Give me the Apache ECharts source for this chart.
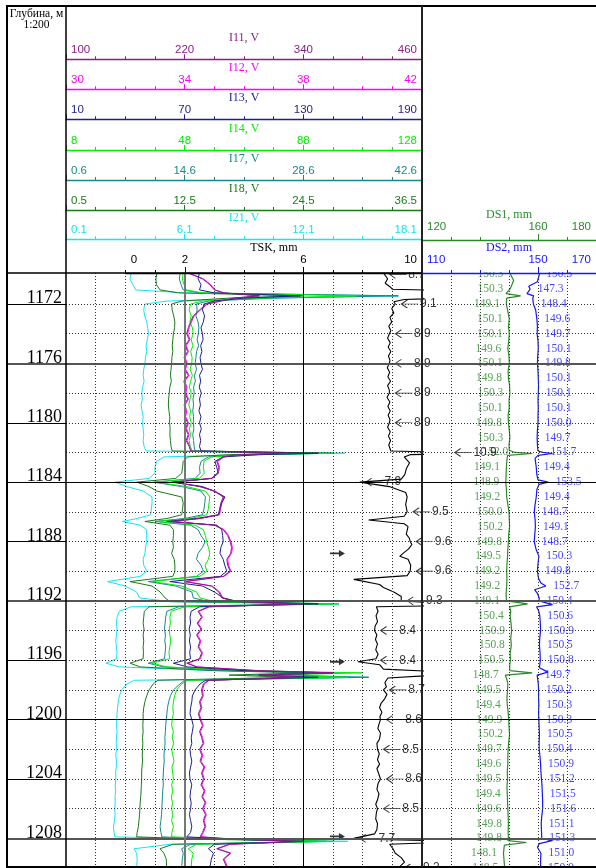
<!DOCTYPE html>
<html>
<head>
<meta charset="utf-8">
<script src="https://cdn.jsdelivr.net/npm/echarts@6.0.0/dist/echarts.min.js"></script>
<style>
html,body{margin:0;padding:0;background:#fff;}
#chart{width:596px;height:868px;}
</style>
</head>
<body>
<div id="chart"></div>
<script>
// ---- Depth samples shared by the I-curves (m) ----
const depthI = [
  1169.9, 1170.3, 1170.7, 1171.05, 1171.25, 1171.45, 1171.6, 1171.8, 1172.0, 1172.4,
  1172.8, 1173.2, 1173.6, 1174.0, 1174.4, 1174.8, 1175.2, 1175.6, 1176.0, 1176.4,
  1176.8, 1177.2, 1177.6, 1178.0, 1178.4, 1178.8, 1179.2, 1179.6, 1180.0, 1180.4,
  1180.8, 1181.2, 1181.6, 1181.9, 1182.05, 1182.15, 1182.3, 1182.6, 1183.0, 1183.4,
  1183.75, 1184.0, 1184.3, 1184.6, 1185.0, 1185.4, 1185.8, 1186.2, 1186.45, 1186.65,
  1186.9, 1187.2, 1187.6, 1188.0, 1188.4, 1188.8, 1189.2, 1189.6, 1190.0, 1190.35,
  1190.7, 1191.0, 1191.4, 1191.8, 1192.05, 1192.2, 1192.4, 1192.7, 1193.1, 1193.5,
  1193.9, 1194.3, 1194.7, 1195.1, 1195.5, 1195.9, 1196.2, 1196.45, 1196.7, 1196.85,
  1197.0, 1197.15, 1197.35, 1197.6, 1198.0, 1198.4, 1198.8, 1199.2, 1199.6, 1200.0,
  1200.4, 1200.8, 1201.2, 1201.6, 1202.0, 1202.4, 1202.8, 1203.2, 1203.6, 1204.0,
  1204.4, 1204.8, 1205.2, 1205.6, 1206.0, 1206.4, 1206.8, 1207.2, 1207.6, 1207.9,
  1208.05, 1208.2, 1208.4, 1208.7, 1209.0, 1209.4, 1209.95
];

// I11, V
const i11 = [
  223, 238, 245.5, 250, 259, 295, 269.5, 256, 242.2, 235,
  228.7, 226, 223.6, 222.1, 224.5, 220.6, 223, 219.4, 221.8, 220,
  223.6, 219.1, 221.5, 220.3, 223, 219.4, 221.2, 220, 223, 220.9,
  223.6, 221.5, 224.5, 226, 325, 274, 259, 252.4, 254.5, 253,
  247, 208.6, 235, 250, 259, 256.6, 255.4, 254.5, 235, 206.5,
  250, 259, 263.5, 265.9, 267.4, 266.5, 262.6, 263.5, 265.9, 259,
  220, 247, 254.5, 257.5, 271, 340, 244, 233.5, 237.1, 232.6,
  236.5, 232, 235.6, 233.5, 237.1, 235, 222.1, 232, 295, 370,
  295, 340, 244, 238.9, 237.1, 238, 235, 236.5, 233.8, 235.6,
  238, 235, 237.1, 238.6, 235, 237.4, 235.6, 239.5, 237.1, 238.9,
  236.5, 239.8, 237.4, 240.7, 238, 241, 238.9, 240.4, 238, 235.6,
  268, 340, 265, 252.4, 265.9, 259, 262.6
];
// I12, V
const i12 = [
  34.13, 34.63, 34.88, 35.03, 35.33, 36.53, 35.68, 35.23, 34.77, 34.53,
  34.32, 34.23, 34.15, 34.1, 34.18, 34.05, 34.13, 34.01, 34.09, 34.03,
  34.15, 34.0, 34.08, 34.04, 34.13, 34.01, 34.07, 34.03, 34.13, 34.06,
  34.15, 34.08, 34.18, 34.23, 37.4, 35.83, 35.33, 35.11, 35.18, 35.13,
  34.93, 33.65, 34.53, 35.03, 35.33, 35.25, 35.21, 35.18, 34.53, 33.58,
  35.03, 35.33, 35.48, 35.56, 35.61, 35.58, 35.45, 35.48, 35.56, 35.33,
  34.03, 34.93, 35.18, 35.28, 35.73, 37.9, 34.83, 34.48, 34.6, 34.45,
  34.58, 34.43, 34.55, 34.48, 34.6, 34.53, 34.1, 34.43, 36.4, 38.9,
  36.4, 37.9, 34.83, 34.66, 34.6, 34.63, 34.53, 34.58, 34.49, 34.55,
  34.63, 34.53, 34.6, 34.65, 34.53, 34.61, 34.55, 34.68, 34.6, 34.66,
  34.58, 34.69, 34.61, 34.72, 34.63, 34.73, 34.66, 34.71, 34.63, 34.55,
  35.63, 38.03, 35.53, 35.11, 35.56, 35.33, 35.45
];
// I13, V
const i13 = [
  77.5, 76.75, 78.25, 77.5, 85, 128.5, 100, 85, 79.75, 79,
  80.05, 79.45, 78.25, 79, 79.3, 78.1, 78.7, 77.8, 78.25, 79,
  77.5, 78.1, 77.35, 78.4, 77.5, 77.95, 77.2, 78.25, 77.5, 78.4,
  77.5, 78.1, 77.5, 78.25, 137.5, 107.5, 89.5, 85.3, 86.2, 86.95,
  83.5, 63.4, 79, 84.55, 90.4, 88.75, 87.85, 86.95, 76, 60.85,
  86.2, 88.75, 89.2, 89.5, 88.3, 87.85, 89.5, 90.25, 91.3, 88,
  62.5, 79, 85, 89.5, 97, 137.5, 77.5, 73.3, 72.7, 73,
  72.25, 72.85, 72.4, 73, 72.55, 73, 64.3, 71.5, 100, 145,
  107.5, 137.5, 80.5, 77.8, 75.25, 73.9, 73.6, 73, 72.7, 73.6,
  74.35, 73.9, 73.3, 73.6, 72.7, 73, 73.6, 73, 72.4, 72.7,
  73.6, 73, 72.7, 73.3, 73, 72.4, 73, 73.6, 73, 71.05,
  92.5, 130, 85, 82, 84.55, 83.5, 82.75
];
// I14, V
const i14 = [
  47.5, 47.2, 47.8, 48.5, 54, 106, 73, 54, 50, 49.5,
  50.2, 49.8, 50.6, 50.9, 50.2, 50.8, 50, 50.5, 50.4, 49.8,
  50.6, 50, 49.6, 50.2, 49.8, 49.4, 50, 49.7, 50.2, 49.6,
  50, 49.5, 49.9, 50.5, 98, 73, 57, 54.5, 54.3, 54.6,
  53, 38, 48.7, 55, 56.5, 56.2, 56, 55.4, 50, 38.6,
  51.5, 54.3, 55, 55.4, 56, 56.5, 56, 54.9, 55.5, 53,
  36.9, 47, 52, 53.2, 58, 100, 48, 43.5, 43, 43.2,
  42.8, 43, 43.3, 43, 42.7, 43, 36.9, 42, 68, 108,
  78, 103, 49, 47, 45.3, 44.6, 44.2, 44, 44.2, 43.8,
  43.6, 44.2, 43.8, 44.3, 43.6, 44, 44.4, 43.7, 44, 44.2,
  43.6, 44, 43.5, 43.9, 43.6, 44, 43.6, 44.2, 43.7, 43.6,
  63, 98, 52, 49.2, 50.9, 50.4, 50.2
];
// I17, V
const i17 = [
  14.08, 13.97, 14.18, 14.43, 16.35, 39.8, 25.1, 17.4, 16.0, 16.07,
  15.93, 16.18, 16.28, 16.21, 16.07, 16.25, 16.0, 15.93, 15.83, 16.0,
  15.76, 15.86, 15.65, 15.72, 15.58, 15.65, 15.55, 15.65, 15.62, 15.69,
  15.55, 15.65, 15.72, 15.83, 32.1, 21.6, 17.4, 16.53, 16.35, 16.42,
  15.83, 10.93, 14.25, 16.53, 17.05, 16.98, 16.88, 16.7, 14.6, 11.1,
  15.3, 16.18, 16.53, 17.02, 16.7, 16.18, 16.0, 16.53, 16.81, 16.0,
  10.3, 13.55, 15.44, 15.62, 17.4, 32.1, 13.9, 12.5, 12.36, 12.29,
  12.22, 12.33, 12.26, 12.36, 12.29, 12.22, 10.3, 12.15, 19.85, 30.35,
  26.85, 36.3, 14.6, 14.04, 13.27, 12.92, 12.71, 12.57, 12.5, 12.43,
  12.36, 12.33, 12.26, 12.29, 12.22, 12.15, 12.19, 12.12, 12.08, 12.05,
  12.08, 12.01, 11.98, 11.94, 11.91, 11.87, 11.8, 11.7, 11.8, 11.91,
  18.1, 31.4, 15.3, 14.25, 14.43, 14.32, 14.25
];
// I18, V
const i18 = [
  9.71, 9.59, 9.65, 10.01, 11.9, 24.5, 17.0, 12.2, 11.18, 11.24,
  11.39, 11.51, 11.48, 11.36, 11.3, 11.24, 11.3, 11.21, 11.18, 11.12,
  11.06, 11.15, 11.0, 10.94, 10.88, 10.85, 10.91, 11.0, 10.97, 11.03,
  11.0, 11.06, 11.12, 11.24, 24.5, 17.0, 12.8, 12.35, 12.29, 12.2,
  11.6, 7.64, 8.9, 9.68, 12.2, 12.35, 12.29, 12.2, 10.7, 8.48,
  11.0, 11.36, 11.36, 11.3, 11.36, 11.18, 11.45, 11.51, 11.51, 11.3,
  6.98, 9.2, 10.01, 10.52, 11.0, 26.48, 8.9, 8.42, 8.36, 8.3,
  8.39, 8.3, 8.36, 8.3, 8.33, 8.3, 6.98, 8.0, 15.5, 24.5,
  17.0, 23.0, 9.8, 9.32, 8.9, 8.66, 8.48, 8.36, 8.3, 8.3,
  8.27, 8.3, 8.24, 8.27, 8.24, 8.21, 8.24, 8.18, 8.15, 8.15,
  8.12, 8.09, 8.06, 8.0, 7.97, 7.94, 7.88, 7.82, 7.7, 7.64,
  14.0, 26.0, 11.3, 10.01, 10.4, 10.64, 10.67
];
// I21, V
const i21 = [
  3.4, 3.33, 3.48, 3.63, 6.1, 16.9, 10.6, 5.2, 4.08, 4.03,
  4.08, 4.18, 4.23, 4.27, 4.21, 4.15, 4.18, 4.12, 4.09, 4.03,
  4.0, 4.05, 3.97, 3.93, 3.96, 3.9, 3.94, 4.0, 3.97, 4.0,
  4.03, 4.0, 4.05, 4.15, 14.2, 9.1, 5.05, 4.68, 4.6, 4.6,
  4.3, 2.58, 3.18, 4.0, 4.45, 4.45, 4.42, 4.38, 3.7, 2.95,
  3.85, 4.18, 4.18, 4.18, 4.12, 4.09, 4.0, 4.03, 4.18, 3.85,
  2.2, 3.1, 3.67, 3.82, 5.35, 13.9, 3.4, 2.8, 2.68, 2.65,
  2.68, 2.65, 2.62, 2.65, 2.68, 2.65, 2.13, 2.8, 7.6, 14.05,
  9.1, 15.4, 3.55, 3.18, 2.92, 2.8, 2.74, 2.71, 2.68, 2.67,
  2.65, 2.68, 2.65, 2.64, 2.65, 2.62, 2.65, 2.64, 2.61, 2.62,
  2.59, 2.61, 2.58, 2.59, 2.56, 2.58, 2.55, 2.5, 2.53, 2.58,
  7.6, 14.35, 5.35, 3.55, 3.67, 3.7, 3.67
];

// TSK, mm  [depth, value]
const tskLog = [
  [1169.9, 8.7], [1170.0, 8.7], [1170.3, 8.84], [1170.6, 8.76], [1170.85, 8.93], [1171.0, 9.0],
  [1171.1, 11.0], [1171.4, 13.4], [1171.7, 9.4], [1171.85, 9.05], [1172.0, 9.1], [1172.3, 8.98],
  [1172.6, 9.05], [1172.9, 8.92], [1173.2, 8.98], [1173.5, 8.88], [1173.8, 8.95], [1174.0, 8.9],
  [1174.3, 8.84], [1174.6, 8.93], [1174.9, 8.86], [1175.2, 8.95], [1175.5, 8.87], [1175.8, 8.92],
  [1176.0, 8.9], [1176.3, 8.83], [1176.6, 8.91], [1176.9, 8.85], [1177.2, 8.94], [1177.5, 8.84],
  [1177.8, 8.9], [1178.0, 8.9], [1178.3, 8.82], [1178.6, 8.92], [1178.9, 8.85], [1179.2, 8.93],
  [1179.5, 8.86], [1179.8, 8.92], [1180.0, 8.9], [1180.3, 8.84], [1180.6, 8.93], [1180.9, 8.87],
  [1181.2, 8.94], [1181.5, 8.88], [1181.9, 8.95], [1182.0, 10.9], [1182.05, 11.85], [1182.15, 9.6],
  [1182.3, 9.4], [1182.7, 9.58], [1183.1, 9.47], [1183.5, 9.42], [1183.8, 9.3], [1184.0, 7.9],
  [1184.3, 8.9], [1184.7, 9.45], [1185.0, 9.5], [1185.5, 9.45], [1186.0, 9.5], [1186.3, 9.4],
  [1186.55, 8.2], [1186.8, 9.4], [1187.0, 9.53], [1187.5, 9.47], [1187.8, 9.58], [1188.0, 9.6],
  [1188.2, 9.66], [1188.5, 9.55], [1188.8, 9.36], [1189.0, 9.25], [1189.2, 9.53], [1189.6, 9.62],
  [1190.0, 9.6], [1190.3, 9.5], [1190.55, 7.7], [1190.9, 8.57], [1191.1, 8.7], [1191.4, 9.05],
  [1191.7, 9.3], [1192.0, 9.3], [1192.15, 10.5], [1192.27, 12.05], [1192.4, 8.46], [1192.7, 8.52],
  [1193.0, 8.45], [1193.4, 8.5], [1193.7, 8.42], [1194.0, 8.4], [1194.3, 8.48], [1194.6, 8.43],
  [1194.9, 8.5], [1195.3, 8.44], [1195.6, 8.52], [1195.9, 8.45], [1196.0, 8.4], [1196.1, 7.84],
  [1196.3, 8.57], [1196.6, 8.7], [1196.87, 11.6], [1197.2, 8.85], [1197.5, 8.75], [1197.8, 8.8],
  [1198.0, 8.7], [1198.3, 8.82], [1198.6, 8.74], [1198.9, 8.62], [1199.2, 8.57], [1199.5, 8.65],
  [1199.8, 8.58], [1200.0, 8.6], [1200.3, 8.55], [1200.6, 8.51], [1200.9, 8.6], [1201.3, 8.57],
  [1201.6, 8.48], [1202.0, 8.5], [1202.3, 8.56], [1202.7, 8.5], [1203.0, 8.57], [1203.3, 8.48],
  [1203.7, 8.55], [1204.0, 8.6], [1204.3, 8.52], [1204.7, 8.48], [1205.0, 8.55], [1205.4, 8.5],
  [1205.7, 8.44], [1206.0, 8.5], [1206.3, 8.46], [1206.7, 8.44], [1207.0, 8.5], [1207.4, 8.48],
  [1207.7, 8.4], [1208.0, 7.7], [1208.08, 8.5], [1208.2, 11.6], [1208.4, 8.91], [1208.7, 9.02],
  [1209.0, 9.1], [1209.3, 9.3], [1209.6, 9.41], [1210.0, 9.2]
];

// DS1, mm  [depth, value]
const ds1Log = [
  [1169.9, 150.2], [1170.0, 150.3], [1170.4, 151.6], [1170.8, 150.8], [1171.0, 150.3], [1171.3, 149.0],
  [1171.45, 154.0], [1171.6, 149.2], [1172.0, 149.1], [1172.5, 149.6], [1173.0, 150.1], [1173.5, 149.8],
  [1174.0, 150.1], [1174.5, 149.9], [1175.0, 149.6], [1175.5, 150.0], [1176.0, 150.1], [1176.5, 149.7],
  [1177.0, 149.8], [1177.5, 150.2], [1178.0, 150.3], [1178.5, 150.0], [1179.0, 150.1], [1179.5, 149.7],
  [1180.0, 149.8], [1180.5, 150.1], [1181.0, 150.3], [1181.5, 150.0], [1181.85, 150.1], [1182.0, 152.0],
  [1182.07, 158.0], [1182.2, 149.5], [1182.5, 149.3], [1183.0, 149.1], [1183.5, 149.0], [1184.0, 148.9],
  [1184.5, 149.1], [1185.0, 149.2], [1185.5, 149.6], [1186.0, 150.0], [1186.5, 150.1], [1187.0, 150.2],
  [1187.5, 149.9], [1188.0, 149.8], [1188.5, 149.6], [1189.0, 149.5], [1189.5, 149.3], [1190.0, 149.2],
  [1190.5, 149.3], [1191.0, 149.2], [1191.5, 149.0], [1192.0, 149.1], [1192.2, 156.4], [1192.4, 150.2],
  [1192.7, 150.6], [1193.0, 150.4], [1193.5, 150.7], [1194.0, 150.9], [1194.5, 150.6], [1195.0, 150.8],
  [1195.5, 150.4], [1196.0, 150.5], [1196.4, 150.2], [1196.7, 150.3], [1196.85, 158.0], [1197.0, 148.7],
  [1197.3, 149.3], [1197.6, 149.6], [1198.0, 149.5], [1198.5, 149.3], [1199.0, 149.4], [1199.5, 149.7],
  [1200.0, 149.9], [1200.5, 150.0], [1201.0, 150.2], [1201.5, 149.9], [1202.0, 149.7], [1202.5, 149.6],
  [1203.0, 149.6], [1203.5, 149.4], [1204.0, 149.5], [1204.5, 149.3], [1205.0, 149.4], [1205.5, 149.5],
  [1206.0, 149.6], [1206.5, 149.7], [1207.0, 149.8], [1207.5, 149.7], [1208.0, 149.8], [1208.15, 149.6],
  [1208.28, 156.0], [1208.45, 148.4], [1209.0, 148.1], [1209.5, 148.3], [1210.0, 148.5]
];

// DS2, mm  [depth, value]
const ds2Log = [
  [1169.9, 150.6], [1170.0, 150.3], [1170.5, 149.8], [1170.8, 146.8], [1171.0, 147.3], [1171.3, 146.2],
  [1171.45, 148.5], [1171.6, 148.2], [1172.0, 148.4], [1172.4, 149.2], [1173.0, 149.6], [1173.5, 149.8],
  [1174.0, 149.7], [1174.5, 150.0], [1175.0, 150.1], [1175.5, 149.9], [1176.0, 149.8], [1176.5, 150.0],
  [1177.0, 150.1], [1177.5, 150.2], [1178.0, 150.1], [1178.5, 150.0], [1179.0, 150.1], [1179.5, 150.0],
  [1180.0, 150.0], [1180.5, 149.8], [1181.0, 149.7], [1181.5, 149.8], [1181.9, 150.0], [1182.0, 151.7],
  [1182.07, 155.0], [1182.2, 150.0], [1182.4, 149.0], [1182.7, 149.2], [1183.0, 149.4], [1183.5, 149.6],
  [1183.85, 150.0], [1184.0, 153.5], [1184.15, 150.4], [1184.5, 149.6], [1185.0, 149.4], [1185.5, 149.0],
  [1186.0, 148.7], [1186.5, 149.0], [1187.0, 149.1], [1187.5, 148.9], [1188.0, 148.7], [1188.5, 149.3],
  [1189.0, 150.3], [1189.5, 150.0], [1190.0, 149.8], [1190.5, 150.2], [1190.8, 151.0], [1191.0, 152.7],
  [1191.25, 148.8], [1191.5, 149.8], [1191.8, 150.4], [1192.0, 150.4], [1192.25, 155.0], [1192.4, 149.5],
  [1192.7, 150.3], [1193.0, 150.6], [1193.5, 150.8], [1194.0, 150.9], [1194.5, 150.6], [1195.0, 150.5],
  [1195.5, 150.7], [1196.0, 150.8], [1196.5, 150.5], [1196.8, 153.4], [1197.0, 149.7], [1197.3, 149.9],
  [1197.6, 150.1], [1198.0, 150.2], [1198.5, 150.2], [1199.0, 150.3], [1199.5, 150.2], [1200.0, 150.3],
  [1200.5, 150.4], [1201.0, 150.5], [1201.5, 150.4], [1202.0, 150.4], [1202.5, 150.7], [1203.0, 150.9],
  [1203.5, 151.0], [1204.0, 151.2], [1204.5, 151.4], [1205.0, 151.5], [1205.5, 151.6], [1206.0, 151.6],
  [1206.5, 151.3], [1207.0, 151.1], [1207.5, 151.2], [1208.0, 151.3], [1208.15, 154.8], [1208.35, 150.5],
  [1208.6, 149.8], [1209.0, 151.0], [1209.5, 150.9], [1210.0, 150.9]
];

// Readouts printed beside the logs
const readDepths = [
  1170, 1171, 1172, 1173, 1174, 1175, 1176, 1177, 1178, 1179, 1180, 1181, 1182, 1183,
  1184, 1185, 1186, 1187, 1188, 1189, 1190, 1191, 1192, 1193, 1194, 1195, 1196, 1197,
  1198, 1199, 1200, 1201, 1202, 1203, 1204, 1205, 1206, 1207, 1208, 1209, 1210
];
const ds1Read = [
  150.3, 150.3, 149.1, 150.1, 150.1, 149.6, 150.1, 149.8, 150.3, 150.1, 149.8, 150.3, 152.0, 149.1,
  148.9, 149.2, 150.0, 150.2, 149.8, 149.5, 149.2, 149.2, 149.1, 150.4, 150.9, 150.8, 150.5, 148.7,
  149.5, 149.4, 149.9, 150.2, 149.7, 149.6, 149.5, 149.4, 149.6, 149.8, 149.8, 148.1, 148.5
];
const ds2Read = [
  150.3, 147.3, 148.4, 149.6, 149.7, 150.1, 149.8, 150.1, 150.1, 150.1, 150.0, 149.7, 151.7, 149.4,
  153.5, 149.4, 148.7, 149.1, 148.7, 150.3, 149.8, 152.7, 150.4, 150.6, 150.9, 150.5, 150.8, 149.7,
  150.2, 150.3, 150.3, 150.5, 150.4, 150.9, 151.2, 151.5, 151.6, 151.1, 151.3, 151.0, 150.9
];
const tskReadDepths = [1170, 1172, 1174, 1176, 1178, 1180, 1182, 1184, 1186, 1188, 1190,
  1192, 1194, 1196, 1198, 1200, 1202, 1204, 1206, 1208, 1210];
const tskRead = [8.7, 9.1, 8.9, 8.9, 8.9, 8.9, 10.9, 7.9, 9.5, 9.6, 9.6,
  9.3, 8.4, 8.4, 8.7, 8.6, 8.5, 8.6, 8.5, 7.7, 9.2];

// Collar marks
const collarDepths = [1188.8, 1196.1, 1207.87];

// Depth scale labels
const depthLabels = [1172, 1176, 1180, 1184, 1188, 1192, 1196, 1200, 1204, 1208];

// ---------------- drawing ----------------
const SANS = 'Liberation Sans', SERIF = 'Liberation Serif';
const TOP = 273, HGT = 594;
const DMIN = 1169.91, DMAX = 1209.93;
const CLEAR = 'rgba(0,0,0,0)';

const C = {
  i11: '#8B1C8B', i12: '#FF00FF', i13: '#1E1E8E', i14: '#00EE00',
  i17: '#168A8A', i18: '#1A7A1A', i21: '#12E6F0', tsk: '#000000',
  ds1: '#2A8A2A', ds2: '#1414FF'
};

function headAxis(name, color, min, max, step, offset, dec) {
  return {
    type: 'value', gridIndex: 0, position: 'top', offset: offset,
    min: min, max: max, interval: step * 4, z: 10,
    name: name, nameLocation: 'middle', nameGap: 15, nameMoveOverlap: false,
    nameTextStyle: { color: color, fontFamily: SERIF, fontSize: 12 },
    axisLine: { show: true, onZero: false, lineStyle: { color: color, width: 1.3 } },
    axisTick: { show: true, length: 5, lineStyle: { color: color } },
    minorTick: { show: true, splitNumber: 4, length: 3, lineStyle: { color: color } },
    axisLabel: {
      color: color, fontFamily: SANS, fontSize: 11.5, margin: 3,
      alignMinLabel: 'left', alignMaxLabel: 'right', padding: [0, 5, 0, 5],
      formatter: v => v.toFixed(dec)
    },
    splitLine: { show: false }, minorSplitLine: { show: false }
  };
}

function plainAxis(grid, min, max) {
  return { type: 'value', gridIndex: grid, min: min, max: max, show: false,
           splitLine: { show: false } };
}

function depthAxis(grid) {
  return { type: 'value', gridIndex: grid, inverse: true, min: DMIN, max: DMAX, show: false,
           splitLine: { show: false } };
}

const xAxes = [
  headAxis('I11, V', C.i11, 100, 460, 30, 213.7, 0),   // 0
  headAxis('I12, V', C.i12, 30, 42, 1, 183.7, 0),       // 1
  headAxis('I13, V', C.i13, 10, 190, 15, 153.7, 0),     // 2
  headAxis('I14, V', C.i14, 8, 128, 10, 123, 0),        // 3
  headAxis('I17, V', C.i17, 0.6, 42.6, 3.5, 93, 1),     // 4
  headAxis('I18, V', C.i18, 0.5, 36.5, 3, 63, 1),       // 5
  headAxis('I21, V', C.i21, 0.1, 18.1, 1.5, 33.7, 1),   // 6
  plainAxis(0, -2, 10),                                 // 7  TSK data scale
  { // 8 DS1
    type: 'value', gridIndex: 1, position: 'top', offset: 33, min: 120, max: 180, interval: 10, z: 10,
    name: 'DS1, mm', nameLocation: 'middle', nameGap: 19, nameMoveOverlap: false,
    nameTextStyle: { color: C.ds1, fontFamily: SERIF, fontSize: 12 },
    axisLine: { show: true, onZero: false, lineStyle: { color: C.ds1, width: 1.3 } },
    axisTick: { show: true, length: 3, lineStyle: { color: C.ds1 } },
    axisLabel: { color: C.ds1, fontFamily: SANS, fontSize: 11.5, margin: 7, customValues: [120, 160, 180],
                 alignMinLabel: 'left', alignMaxLabel: 'right', padding: [0, 5, 0, 5] },
    splitLine: { show: false }
  },
  { // 9 DS2
    type: 'value', gridIndex: 1, position: 'top', offset: 0, min: 110, max: 170, interval: 10, z: 10,
    name: 'DS2, mm', nameLocation: 'middle', nameGap: 19, nameMoveOverlap: false,
    nameTextStyle: { color: C.ds2, fontFamily: SERIF, fontSize: 12 },
    axisLine: { show: true, onZero: false, lineStyle: { color: C.ds2, width: 1.3 } },
    axisTick: { show: true, length: 3, lineStyle: { color: C.ds2 } },
    axisLabel: { color: C.ds2, fontFamily: SANS, fontSize: 11.5, margin: 7, customValues: [110, 150, 170],
                 alignMinLabel: 'left', alignMaxLabel: 'right', padding: [0, 5, 0, 5] },
    splitLine: { show: false }
  },
  plainAxis(2, 0, 1),                                   // 10 depth column
  { // 11 TSK header scale
    type: 'value', gridIndex: 3, position: 'top', offset: 0, min: 0, max: 10, interval: 1, z: 10,
    name: 'TSK, mm', nameLocation: 'middle', nameGap: 19, nameMoveOverlap: false,
    nameTextStyle: { color: '#000', fontFamily: SERIF, fontSize: 12 },
    axisLine: { show: true, onZero: false, lineStyle: { color: '#000', width: 1.3 } },
    axisTick: { show: true, length: 3, lineStyle: { color: '#000' } },
    axisLabel: { color: '#000', fontFamily: SANS, fontSize: 11.5, margin: 7, customValues: [0, 2, 6, 10],
                 alignMinLabel: 'left', alignMaxLabel: 'right', padding: [0, 5, 0, 5] },
    splitLine: { show: false }
  },
  { // 12 TSK major ticks
    type: 'value', gridIndex: 3, position: 'top', offset: 0, min: 0, max: 10, z: 10,
    axisLine: { show: false }, axisLabel: { show: false },
    axisTick: { show: true, length: 6, customValues: [2, 6, 10], lineStyle: { color: '#000' } },
    splitLine: { show: false }
  },
  { // 13 DS1 major tick
    type: 'value', gridIndex: 1, position: 'top', offset: 33, min: 120, max: 180, z: 10,
    axisLine: { show: false }, axisLabel: { show: false },
    axisTick: { show: true, length: 6, customValues: [160], lineStyle: { color: C.ds1 } },
    splitLine: { show: false }
  },
  { // 14 DS2 major tick
    type: 'value', gridIndex: 1, position: 'top', offset: 0, min: 110, max: 170, z: 10,
    axisLine: { show: false }, axisLabel: { show: false },
    axisTick: { show: true, length: 6, customValues: [150], lineStyle: { color: C.ds2 } },
    splitLine: { show: false }
  }
];

const yAxes = [
  depthAxis(0),
  depthAxis(1),
  { // depth scale column
    type: 'value', gridIndex: 2, inverse: true, min: DMIN, max: DMAX, position: 'right',
    axisLine: { show: false }, axisTick: { show: false }, splitLine: { show: false },
    axisLabel: { show: true, inside: true, margin: 4, customValues: depthLabels,
                 formatter: v => String(v),
                 color: '#000', fontFamily: SERIF, fontSize: 18, verticalAlign: 'bottom', lineHeight: 11 }
  },
  depthAxis(3)
];

const DOT = { type: [1, 2], color: '#333', width: 1 };
const THICK = { type: 'solid', color: '#555', width: 2.2 };
const THIN = { type: 'solid', color: '#000', width: 1 };

function hLines(dotted, thin, thick) {
  const out = [];
  dotted.forEach(d => out.push({ yAxis: d, lineStyle: DOT }));
  thin.forEach(d => out.push({ yAxis: d, lineStyle: THIN }));
  thick.forEach(d => out.push({ yAxis: d, lineStyle: THICK }));
  return out;
}
const dottedRows = [1172, 1174, 1178, 1180, 1182, 1186, 1188, 1190, 1194, 1196, 1198, 1202, 1204, 1206];
const thinRows = [1184, 1200];
const thickRows = [1176, 1192, 1208];

function gridSeries(xi, yi, anchor, items) {
  return {
    type: 'line', xAxisIndex: xi, yAxisIndex: yi, z: 1, silent: true,
    data: [[anchor, 1190]], symbol: 'none', lineStyle: { opacity: 0 },
    markLine: { silent: true, symbol: ['none', 'none'], label: { show: false }, animation: false,
                emphasis: { disabled: true }, data: items }
  };
}

const track1Lines = hLines(dottedRows, thinRows, thickRows)
  .concat([-1, 0, 1, 3, 4, 5, 7, 8, 9].map(v => ({ xAxis: v, lineStyle: DOT })))
  .concat([{ xAxis: 2, lineStyle: { type: 'solid', color: '#777', width: 2 } },
           { xAxis: 6, lineStyle: THIN }]);
const track2Lines = hLines(dottedRows, thinRows, thickRows)
  .concat([130, 140, 150, 160, 170].map(v => ({ xAxis: v, lineStyle: DOT })));
const depthColLines = hLines([], [1172, 1180, 1184, 1188, 1196, 1200, 1204], thickRows);

function curve(name, xi, yi, color, pts, w) {
  return {
    name: name, type: 'line', xAxisIndex: xi, yAxisIndex: yi, data: pts,
    symbol: 'none', showSymbol: false, z: 2, silent: true,
    lineStyle: { color: color, width: w || 1 }
  };
}
const iPts = arr => depthI.map((d, k) => [arr[k], d]);
const logPts = arr => arr.map(p => [p[1], p[0]]);

const series = [
  gridSeries(7, 0, 4, track1Lines),
  gridSeries(8, 1, 150, track2Lines),
  gridSeries(10, 2, 0.5, depthColLines),
  curve('I12', 1, 0, C.i12, iPts(i12)),
  curve('I21', 6, 0, C.i21, iPts(i21)),
  curve('I18', 5, 0, C.i18, iPts(i18)),
  curve('I17', 4, 0, C.i17, iPts(i17)),
  curve('I14', 3, 0, C.i14, iPts(i14)),
  curve('I13', 2, 0, C.i13, iPts(i13)),
  curve('I11', 0, 0, C.i11, iPts(i11)),
  curve('TSK', 7, 0, C.tsk, logPts(tskLog), 1.1),
  curve('DS1', 8, 1, C.ds1, logPts(ds1Log), 1.2),
  curve('DS2', 9, 1, C.ds2, logPts(ds2Log), 1.2),
  { // DS1 readouts
    type: 'scatter', xAxisIndex: 8, yAxisIndex: 1, clip: false, silent: true, z: 3,
    data: readDepths.map((d, k) => [ds1Read[k], d]),
    symbolSize: 1, itemStyle: { color: CLEAR },
    label: { show: true, position: 'left', distance: 6, color: C.ds1, fontFamily: SERIF, fontSize: 11.5,
             formatter: p => p.value[0].toFixed(1) }
  },
  { // DS2 readouts
    type: 'scatter', xAxisIndex: 9, yAxisIndex: 1, clip: false, silent: true, z: 3,
    data: readDepths.map((d, k) => [ds2Read[k], d]),
    symbolSize: 1, itemStyle: { color: CLEAR },
    label: { show: true, position: 'right', distance: 7, color: C.ds2, fontFamily: SERIF, fontSize: 11.5,
             formatter: p => p.value[0].toFixed(1) }
  },
  { // TSK readouts with pointer arrows
    type: 'scatter', xAxisIndex: 7, yAxisIndex: 0, clip: false, silent: true, z: 3,
    data: tskReadDepths.map((d, k) => [tskRead[k], d]),
    symbol: 'path://M6,0 L0,4 L6,8 M0,4 L17,4', symbolSize: [17, 8], symbolOffset: [14.5, 0],
    itemStyle: { color: CLEAR, borderColor: '#000', borderWidth: 1 },
    label: { show: true, position: 'right', distance: 1, color: '#000', fontFamily: SANS, fontSize: 12,
             formatter: p => p.value[0].toFixed(1) }
  },
  { // collar marks
    type: 'scatter', xAxisIndex: 7, yAxisIndex: 0, silent: true, z: 3,
    data: collarDepths.map(d => [7.15, d]),
    symbol: 'path://M0,2.6 L9,2.6 L9,0 L15,3.5 L9,7 L9,4.4 L0,4.4 Z', symbolSize: [15, 7],
    itemStyle: { color: '#000' }
  }
];

const chart = echarts.init(document.getElementById('chart'), null, { renderer: 'canvas' });
chart.setOption({
  animation: false,
  backgroundColor: '#fff',
  grid: [
    { left: 66, top: TOP, width: 356, height: HGT },
    { left: 422, top: TOP, width: 178, height: HGT },
    { left: 7, top: TOP, width: 59, height: HGT },
    { left: 125.67, top: TOP, width: 296.33, height: HGT }
  ],
  xAxis: xAxes,
  yAxis: yAxes,
  series: series,
  graphic: [
    { type: 'rect', z: 5, silent: true, shape: { x: 0, y: 0, width: 600, height: 272 }, style: { fill: '#fff' } },
    { type: 'rect', z: 50, silent: true, shape: { x: 7, y: 6, width: 600, height: 861 },
      style: { fill: 'none', stroke: '#000', lineWidth: 2 } },
    { type: 'line', z: 50, silent: true, shape: { x1: 66, y1: 6, x2: 66, y2: 867 },
      style: { stroke: '#000', lineWidth: 1.5 } },
    { type: 'line', z: 50, silent: true, shape: { x1: 422, y1: 6, x2: 422, y2: 867 },
      style: { stroke: '#222', lineWidth: 2 } },
    { type: 'line', z: 50, silent: true, shape: { x1: 7, y1: 273, x2: 422, y2: 273 },
      style: { stroke: '#000', lineWidth: 1.5 } },
    { type: 'text', z: 50, silent: true, x: 36.5, y: 14,
      style: { text: 'Глубина, м', fill: '#000', font: '11.5px "Liberation Serif"', align: 'center', verticalAlign: 'middle' } },
    { type: 'text', z: 50, silent: true, x: 36.5, y: 24.5,
      style: { text: '1:200', fill: '#000', font: '11.5px "Liberation Serif"', align: 'center', verticalAlign: 'middle' } }
  ]
});
</script>
</body>
</html>
